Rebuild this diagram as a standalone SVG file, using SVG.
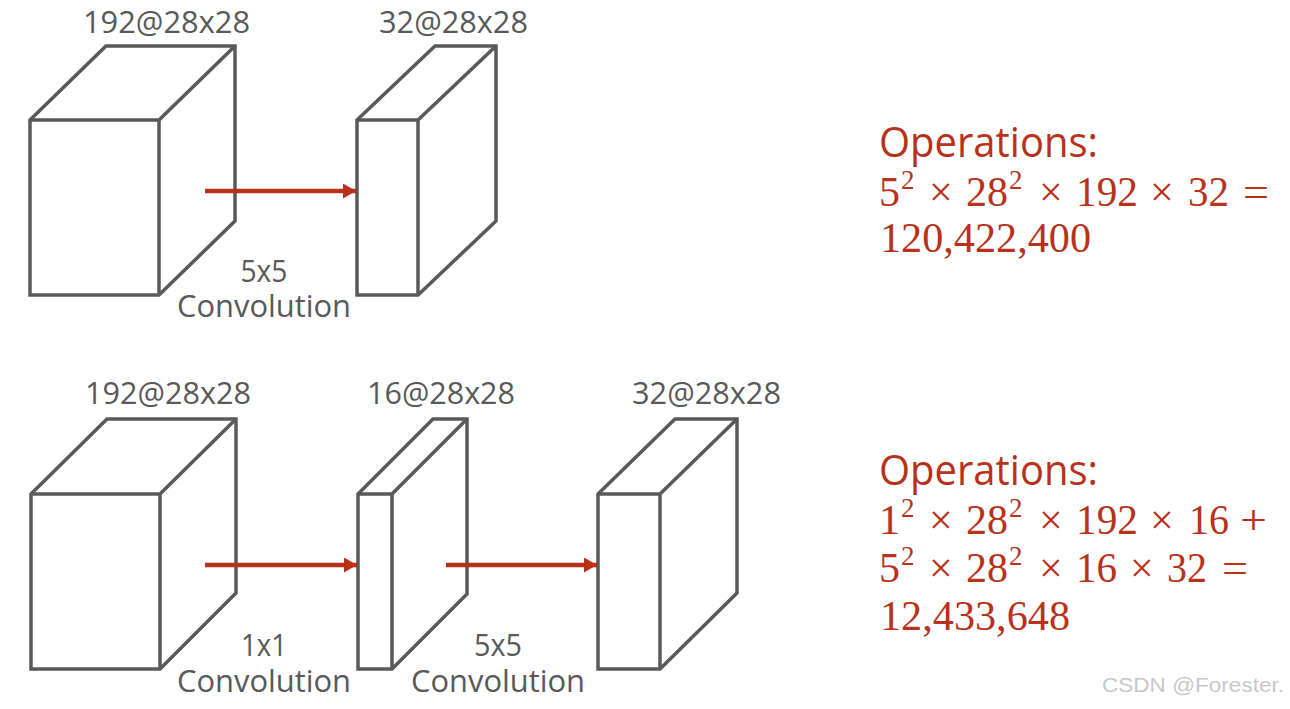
<svg xmlns="http://www.w3.org/2000/svg" width="1290" height="709" viewBox="0 0 1290 709">
<defs>
<style>
.cube{fill:#ffffff;stroke:#595959;stroke-width:3.5;stroke-linejoin:miter}
.edge{fill:none;stroke:#595959;stroke-width:3.5}
.lbl{font-family:"Open Sans","Liberation Sans",sans-serif;font-size:31px;fill:#595959}
.conn{stroke:#B8311A;stroke-width:4.5;fill:none}
.op{font-family:"Open Sans","Liberation Sans",sans-serif;font-size:42px;fill:#B8311A}
.math{font-family:"Liberation Serif","DejaVu Serif",serif;font-size:42px;fill:#B8311A}
.sup{font-size:27px}
.wm{font-family:"Liberation Sans",Arial,sans-serif;font-size:21px;fill:#c8c8c8}
</style>
<marker id="ah" markerWidth="14" markerHeight="15" refX="13" refY="7.5" orient="auto" markerUnits="userSpaceOnUse">
<path d="M0,0 L13,7.5 L0,15 Z" fill="#B8311A"/>
</marker>
</defs>
<rect width="1290" height="709" fill="#ffffff"/>

<g id="top-input">
<path class="cube" d="M30,120 L106,46 H235 V221 L159,295 H30 Z"/>
<path class="edge" d="M30,120 H159 V295 M159,120 L235,46"/>
<text class="lbl" x="83" y="33" textLength="167" lengthAdjust="spacingAndGlyphs">192@28x28</text>
</g>
<g id="top-output">
<path class="cube" d="M357,120 L435,46 H496 V221 L418,295 H357 Z"/>
<path class="edge" d="M357,120 H418 V295 M418,120 L496,46"/>
<text class="lbl" x="379" y="33" textLength="149" lengthAdjust="spacingAndGlyphs">32@28x28</text>
</g>
<g id="top-conv-label">
<text class="lbl" x="264" y="282" text-anchor="middle" textLength="47" lengthAdjust="spacingAndGlyphs">5x5</text>
<text class="lbl" x="177" y="317" textLength="174" lengthAdjust="spacingAndGlyphs">Convolution</text>
</g>

<g id="bottom-input">
<path class="cube" d="M31,494 L107,419 H236 V593 L160,669 H31 Z"/>
<path class="edge" d="M31,494 H160 V669 M160,494 L236,419"/>
<text class="lbl" x="85" y="404" textLength="166" lengthAdjust="spacingAndGlyphs">192@28x28</text>
</g>
<g id="bottom-reduce">
<path class="cube" d="M358,494 L433,419 H467 V594 L392,669 H358 Z"/>
<path class="edge" d="M358,494 H392 V669 M392,494 L467,419"/>
<text class="lbl" x="367" y="404" textLength="148" lengthAdjust="spacingAndGlyphs">16@28x28</text>
</g>
<g id="bottom-output">
<path class="cube" d="M598,494 L675,419 H737 V593 L660,669 H598 Z"/>
<path class="edge" d="M598,494 H660 V669 M660,494 L737,419"/>
<text class="lbl" x="632" y="404" textLength="149" lengthAdjust="spacingAndGlyphs">32@28x28</text>
</g>
<g id="bottom-conv-labels">
<text class="lbl" x="264" y="656" text-anchor="middle" textLength="46" lengthAdjust="spacingAndGlyphs">1x1</text>
<text class="lbl" x="177" y="692" textLength="174" lengthAdjust="spacingAndGlyphs">Convolution</text>
<text class="lbl" x="498" y="656" text-anchor="middle" textLength="48" lengthAdjust="spacingAndGlyphs">5x5</text>
<text class="lbl" x="411" y="692" textLength="174" lengthAdjust="spacingAndGlyphs">Convolution</text>
</g>

<g id="connectors">
<line class="conn" x1="205" y1="191" x2="356" y2="191" marker-end="url(#ah)"/>
<line class="conn" x1="205" y1="565" x2="357" y2="565" marker-end="url(#ah)"/>
<line class="conn" x1="446" y1="565" x2="597" y2="565" marker-end="url(#ah)"/>
</g>

<g id="ops-top">
<text class="op" x="879" y="157" textLength="219" lengthAdjust="spacingAndGlyphs">Operations:</text>
<text class="math" y="206"><tspan x="879">5</tspan><tspan class="sup" x="901" dy="-17">2</tspan><tspan x="929" dy="17">×</tspan><tspan x="966">28</tspan><tspan class="sup" x="1009" dy="-17">2</tspan><tspan x="1039" dy="17">×</tspan><tspan x="1076" textLength="62" lengthAdjust="spacingAndGlyphs">192</tspan><tspan x="1150">×</tspan><tspan x="1188" textLength="41" lengthAdjust="spacingAndGlyphs">32</tspan><tspan x="1243" textLength="26" lengthAdjust="spacingAndGlyphs">=</tspan></text>
<text class="math" x="880" y="252" textLength="211" lengthAdjust="spacingAndGlyphs">120,422,400</text>
</g>
<g id="ops-bottom">
<text class="op" x="879" y="485" textLength="219" lengthAdjust="spacingAndGlyphs">Operations:</text>
<text class="math" y="534"><tspan x="879">1</tspan><tspan class="sup" x="901" dy="-17">2</tspan><tspan x="929" dy="17">×</tspan><tspan x="966">28</tspan><tspan class="sup" x="1009" dy="-17">2</tspan><tspan x="1039" dy="17">×</tspan><tspan x="1076" textLength="62" lengthAdjust="spacingAndGlyphs">192</tspan><tspan x="1150">×</tspan><tspan x="1189" textLength="40" lengthAdjust="spacingAndGlyphs">16</tspan><tspan x="1240" textLength="27" lengthAdjust="spacingAndGlyphs">+</tspan></text>
<text class="math" y="582"><tspan x="879">5</tspan><tspan class="sup" x="901" dy="-17">2</tspan><tspan x="929" dy="17">×</tspan><tspan x="966">28</tspan><tspan class="sup" x="1009" dy="-17">2</tspan><tspan x="1039" dy="17">×</tspan><tspan x="1076" textLength="41" lengthAdjust="spacingAndGlyphs">16</tspan><tspan x="1130">×</tspan><tspan x="1167" textLength="40" lengthAdjust="spacingAndGlyphs">32</tspan><tspan x="1222" textLength="26" lengthAdjust="spacingAndGlyphs">=</tspan></text>
<text class="math" x="880" y="630" textLength="190" lengthAdjust="spacingAndGlyphs">12,433,648</text>
</g>

<text class="wm" x="1102" y="692" textLength="182" lengthAdjust="spacingAndGlyphs">CSDN @Forester.</text>
</svg>
